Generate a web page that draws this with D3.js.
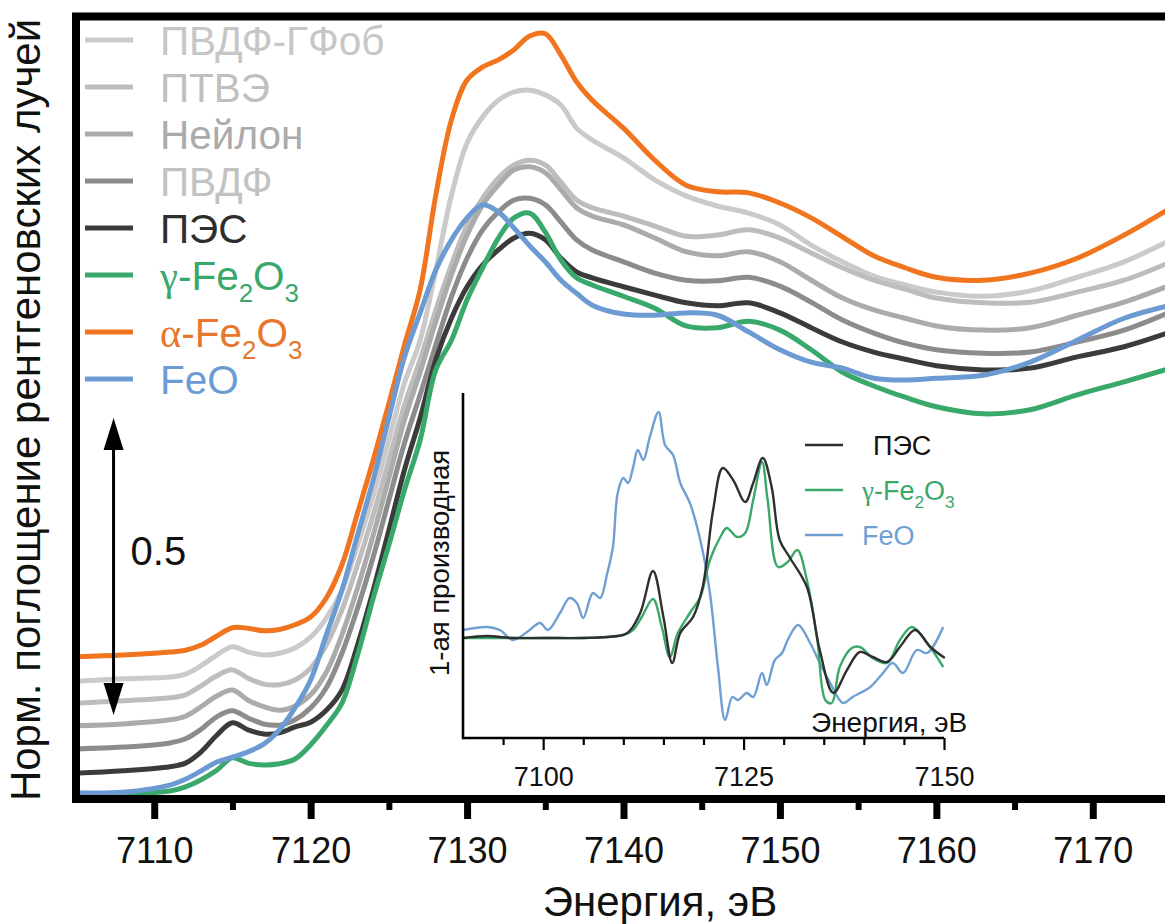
<!DOCTYPE html>
<html lang="ru">
<head>
<meta charset="utf-8">
<title>Fe K-край XANES</title>
<script src="https://cdn.jsdelivr.net/npm/d3@7/dist/d3.min.js"></script>
<style>
  html, body { margin: 0; background: #fff; }
  svg { display: block; font-family: "Liberation Sans", Arial, Helvetica, sans-serif; }
</style>
</head>
<body>
<svg id="chart" width="1165" height="924"></svg>
<script>
// ---------- Fe K-edge XANES, shared energy grid (eV) ----------
const energy = [7105, 7108, 7111, 7112, 7113, 7114, 7115, 7116, 7117, 7118, 7119, 7120, 7121,
  7122, 7123, 7124, 7125, 7126, 7127, 7128, 7129, 7130, 7131, 7132, 7133, 7134, 7135, 7136, 7137, 7138,
  7140, 7142, 7144, 7146, 7148, 7150, 7152, 7154, 7156, 7158, 7160,
  7163, 7166, 7169, 7172, 7175];

// normalised absorption, stacked with vertical offsets
const pvdfHfob = [.195,.199,.202,.207,.221,.239,.253,.244,.239,.242,.251,.269,.301,
  .348,.424,.508,.601,.697,.769,.887,1.013,1.101,1.145,1.173,1.187,1.190,1.182,1.165,1.126,1.106,
  1.076,1.039,1.012,.995,.983,.963,.929,.901,.877,.862,.850,
  .843,.852,.875,.901,.938];
const ptfe = [.158,.162,.167,.172,.187,.204,.214,.200,.190,.189,.197,.217,.256,
  .315,.391,.475,.567,.660,.736,.820,.896,.963,1.008,1.042,1.064,1.072,1.064,1.035,1.005,.992,
  .978,.961,.944,.946,.955,.941,.916,.891,.870,.855,.840,
  .832,.833,.850,.870,.901];
const nylon = [.120,.123,.130,.136,.152,.170,.180,.163,.152,.146,.153,.172,.210,
  .273,.352,.441,.537,.635,.715,.800,.879,.946,.997,1.030,1.056,1.061,1.051,1.022,.992,.978,
  .963,.941,.918,.911,.918,.901,.870,.840,.820,.806,.793,
  .786,.790,.811,.833,.862];
const pvdf = [.081,.084,.091,.098,.114,.135,.145,.133,.123,.121,.130,.150,.184,
  .242,.318,.404,.500,.596,.677,.761,.842,.907,.955,.985,1.005,1.008,.997,.968,.938,.921,
  .901,.882,.870,.869,.875,.860,.833,.803,.781,.764,.753,
  .747,.749,.766,.786,.817];
const pes = [.040,.044,.051,.057,.076,.104,.125,.113,.106,.108,.118,.126,.146,
  .180,.256,.348,.449,.551,.638,.736,.806,.859,.896,.921,.941,.949,.938,.907,.884,.874,
  .859,.845,.832,.827,.832,.815,.790,.766,.749,.737,.726,
  .719,.722,.741,.758,.783];
const gammaFe2O3 = [.003,.005,.010,.017,.029,.045,.066,.057,.054,.056,.064,.088,.120,
  .158,.239,.335,.424,.517,.601,.719,.769,.837,.891,.941,.975,.983,.951,.904,.874,.862,
  .843,.823,.793,.790,.801,.786,.753,.715,.692,.673,.657,
  .645,.652,.677,.699,.722];
const alphaFe2O3 = [.236,.239,.244,.247,.256,.271,.285,.284,.280,.282,.290,.303,.335,
  .391,.478,.567,.662,.761,.854,1.013,1.140,1.207,1.229,1.241,1.258,1.281,1.285,1.249,1.204,1.173,
  1.126,1.072,1.030,1.019,1.017,1.000,.975,.943,.911,.891,.875,
  .870,.882,.907,.946,.992];
const feo = [.007,.008,.020,.030,.044,.059,.067,.076,.089,.113,.150,.197,.273,
  .348,.441,.534,.638,.741,.815,.887,.938,.975,.997,.985,.958,.928,.901,.870,.848,.828,
  .813,.811,.815,.811,.783,.753,.732,.722,.705,.702,.705,
  .710,.732,.769,.806,.828];

const mainTicks = [7110, 7120, 7130, 7140, 7150, 7160, 7170];
const mainMinorTicks = [7115, 7125, 7135, 7145, 7155, 7165, 7175];

// scale bar (normalised units)
const scaleBarEnergy = 7107.4;
const scaleBarFrom = 0.138;
const scaleBarSpan = 0.5;

// ---------- first derivative (inset) ----------
const dEnergyPes = [7090, 7093, 7096, 7100, 7105, 7108, 7110.5, 7112.1, 7113.7, 7115.0, 7116.1, 7117.1,
  7118.7, 7119.9, 7121.2, 7122.4, 7123.7, 7125.2, 7126.2, 7127.4, 7128.5, 7129.5, 7130.8, 7132.9,
  7134.5, 7136.2, 7137.9, 7139.5, 7141.1, 7142.9, 7144.5, 7146.4, 7148.3, 7150.1];
const dPes = [0.00, 0.02, 0.00, 0.00, 0.00, 0.01, 0.05, 0.25, 0.67, 0.21, -0.25, 0.05,
  0.21, 0.51, 1.28, 1.70, 1.58, 1.36, 1.55, 1.80, 1.51, 0.98, 0.80, 0.51,
  -0.12, -0.55, -0.32, -0.14, -0.19, -0.24, -0.09, 0.08, -0.09, -0.20];

const dEnergyGamma = [7090, 7095, 7100, 7105, 7108, 7110, 7111.2, 7112.3, 7113.7, 7114.8, 7115.8, 7116.8,
  7118.3, 7119.6, 7120.8, 7122.1, 7122.9, 7124.2, 7125.2, 7126.2, 7127.3, 7128.0, 7129.3, 7130.5,
  7131.7, 7132.9, 7134.2, 7135.2, 7136.0, 7137.0, 7138.5, 7139.5, 7141.1, 7142.9, 7144.5, 7146.0,
  7147.9, 7149.9];
const dGamma = [0.00, 0.00, 0.00, 0.00, 0.01, 0.03, 0.08, 0.21, 0.39, 0.11, -0.19, 0.05,
  0.25, 0.41, 0.78, 1.01, 1.10, 1.01, 1.05, 1.38, 1.76, 1.38, 0.71, 0.76,
  0.88, 0.58, -0.02, -0.62, -0.65, -0.29, -0.10, -0.09, -0.20, -0.25, -0.02, 0.11,
  -0.05, -0.29];

const dEnergyFeo = [7090.0, 7093.0, 7094.6, 7096.2, 7098.0, 7099.6, 7100.6, 7102.1, 7103.3, 7104.2,
  7105.0, 7106.2, 7107.1, 7108.0, 7108.7, 7109.3, 7110.0, 7110.6, 7111.2, 7111.8, 7112.5, 7113.3,
  7114.4, 7115.2, 7116.2, 7117.1, 7118.3, 7119.6, 7120.8, 7121.8, 7122.7, 7123.6, 7124.3, 7125.4,
  7126.2, 7127.3, 7127.9, 7128.9, 7129.8, 7130.5, 7131.8, 7133.3, 7134.5, 7135.8, 7137.4, 7138.6,
  7140.8, 7142.4, 7143.6, 7144.9, 7146.6, 7147.9, 7149.9];
const dFeo = [0.08, 0.11, 0.08, -0.02, 0.06, 0.15, 0.08, 0.25, 0.40, 0.35,
  0.20, 0.45, 0.40, 0.65, 0.91, 1.45, 1.60, 1.55, 1.70, 1.88, 1.78, 2.01,
  2.26, 1.93, 1.83, 1.55, 1.35, 0.98, 0.45, -0.29, -0.82, -0.59, -0.62, -0.55,
  -0.59, -0.35, -0.47, -0.22, -0.15, -0.02, 0.13, -0.05, -0.25, -0.45, -0.65, -0.59,
  -0.49, -0.35, -0.25, -0.35, -0.12, -0.15, 0.11];

const insetTicks = [7100, 7125, 7150];
const insetMinorTicks = [7095, 7105, 7110, 7115, 7120, 7130, 7135, 7140, 7145];

// ---------- series styling ----------
const mainSeries = [
  { name: "ПВДФ-ГФоб", values: pvdfHfob,   line: "#cacaca", text: "#c6c6c6" },
  { name: "ПТВЭ",      values: ptfe,       line: "#bdbdbd", text: "#bfbfbf" },
  { name: "Нейлон",    values: nylon,      line: "#ababab", text: "#ababab" },
  { name: "ПВДФ",      values: pvdf,       line: "#8c8c8c", text: "#c2c2c2" },
  { name: "ПЭС",       values: pes,        line: "#3b3b3b", text: "#2e2e2e" },
  { name: "γ-Fe2O3",   values: gammaFe2O3, line: "#39a86b", text: "#39a86b" },
  { name: "α-Fe2O3",   values: alphaFe2O3, line: "#f0751e", text: "#e8762c" },
  { name: "FeO",       values: feo,        line: "#6b9bd2", text: "#6b9bd2" }
];

const insetSeries = [
  { name: "FeO",     e: dEnergyFeo,   v: dFeo,   color: "#6f9fd3" },
  { name: "γ-Fe2O3", e: dEnergyGamma, v: dGamma, color: "#3aa86b" },
  { name: "ПЭС",     e: dEnergyPes,   v: dPes,   color: "#2f2f2f" }
];
const insetLegendOrder = ["ПЭС", "γ-Fe2O3", "FeO"];

// ---------- layout ----------
const W = 1165, H = 924;
const plot = { left: 76, top: 16.5, bottom: 799, right: 1171 };
const svg = d3.select("#chart");
svg.append("rect").attr("width", W).attr("height", H).attr("fill", "#fff");

const x = d3.scaleLinear().domain([7105, 7175]).range([plot.left, plot.right]);
const y = d3.scaleLinear().domain([0, 1.3]).range([797, 797 - 1.3 * 594]);

const ix = d3.scaleLinear().domain([7090, 7150]).range([463, 944]);
const iy = d3.scaleLinear().domain([-1, 2.45]).range([738, 393]);

// label helper: digits become subscripts, Greek letters use a serif face
function richText(sel, label, size) {
  const parts = label.match(/[α-ω]|\d|[^α-ω\d]+/g);
  let low = false;
  parts.forEach(p => {
    const t = sel.append("tspan").text(p);
    if (/\d/.test(p)) {
      t.attr("font-size", size * 0.64);
      if (!low) { t.attr("dy", size * 0.3); low = true; }
    } else {
      if (low) { t.attr("dy", -size * 0.3); low = false; }
      if (/[α-ω]/.test(p)) t.attr("font-family", "'Liberation Serif', 'Times New Roman', serif");
    }
  });
}

// ---------- main spectra ----------
svg.append("clipPath").attr("id", "plotClip")
  .append("rect").attr("x", plot.left).attr("y", plot.top)
  .attr("width", plot.right - plot.left + 20).attr("height", plot.bottom - plot.top);

const line = d3.line()
  .x((d, i) => x(energy[i]))
  .y(d => y(d))
  .curve(d3.curveCatmullRom.alpha(0.5));

svg.append("g").attr("clip-path", "url(#plotClip)")
  .selectAll("path").data(mainSeries).join("path")
  .attr("d", s => line(s.values))
  .attr("fill", "none")
  .attr("stroke", s => s.line)
  .attr("stroke-width", 5)
  .attr("stroke-linejoin", "round");

// ---------- main axis ----------
const axisG = svg.append("g").attr("transform", `translate(0,${plot.bottom})`);
axisG.call(d3.axisBottom(x).tickValues(mainMinorTicks).tickSize(11).tickFormat(""))
  .call(g => g.select(".domain").remove())
  .call(g => g.selectAll("line").attr("stroke", "#000").attr("stroke-width", 6));
const axisMajor = svg.append("g").attr("transform", `translate(0,${plot.bottom})`);
axisMajor.call(d3.axisBottom(x).tickValues(mainTicks).tickSize(20).tickPadding(18).tickFormat(d3.format("d")))
  .call(g => g.select(".domain").remove())
  .call(g => g.selectAll("line").attr("stroke", "#000").attr("stroke-width", 7))
  .call(g => g.selectAll("text").attr("font-size", 36).attr("fill", "#111")
    .attr("font-family", "'Liberation Sans', Arial, sans-serif"));

// frame
svg.append("rect")
  .attr("x", plot.left).attr("y", plot.top)
  .attr("width", plot.right - plot.left + 10).attr("height", plot.bottom - plot.top)
  .attr("fill", "none").attr("stroke", "#000").attr("stroke-width", 8);

// axis titles
svg.append("text")
  .attr("x", 660).attr("y", 916)
  .attr("text-anchor", "middle").attr("font-size", 42).attr("fill", "#111")
  .text("Энергия, эВ");

svg.append("text")
  .attr("transform", "translate(40,410) rotate(-90)")
  .attr("text-anchor", "middle").attr("font-size", 42).attr("fill", "#111")
  .text("Норм. поглощение рентгеновских лучей");

// ---------- legend ----------
const legend = svg.append("g");
mainSeries.forEach((s, i) => {
  const ry = 40 + i * 47 + (i >= 6 ? 10 : 0);
  legend.append("line")
    .attr("x1", 85).attr("x2", 133).attr("y1", ry).attr("y2", ry)
    .attr("stroke", s.line).attr("stroke-width", 5);
  const t = legend.append("text")
    .attr("x", 160).attr("y", ry + 15)
    .attr("font-size", 40.5).attr("fill", s.text);
  richText(t, s.name, 40.5);
});

// ---------- 0.5 scale bar ----------
const sbX = x(scaleBarEnergy);
const sbTop = y(scaleBarFrom + scaleBarSpan);
const sbBot = y(scaleBarFrom);
const headL = 32, headW = 10;
svg.append("line")
  .attr("x1", sbX).attr("x2", sbX)
  .attr("y1", sbTop + headL - 2).attr("y2", sbBot - headL + 2)
  .attr("stroke", "#000").attr("stroke-width", 3);
svg.append("path")
  .attr("d", `M${sbX},${sbTop} L${sbX - headW},${sbTop + headL} L${sbX + headW},${sbTop + headL} Z`)
  .attr("fill", "#000");
svg.append("path")
  .attr("d", `M${sbX},${sbBot} L${sbX - headW},${sbBot - headL} L${sbX + headW},${sbBot - headL} Z`)
  .attr("fill", "#000");
svg.append("text")
  .attr("x", sbX + 17).attr("y", (sbTop + sbBot) / 2 - 1.5)
  .attr("font-size", 40).attr("fill", "#111")
  .text(String(scaleBarSpan));

// ---------- inset: first derivative ----------
const inset = svg.append("g");
const iline = d3.line().curve(d3.curveCatmullRom.alpha(0.5));
inset.selectAll("path.deriv").data(insetSeries).join("path")
  .attr("class", "deriv")
  .attr("d", s => iline(s.e.map((e, i) => [ix(e), iy(s.v[i])])))
  .attr("fill", "none")
  .attr("stroke", d => d.color)
  .attr("stroke-width", 2.4)
  .attr("stroke-linejoin", "round");

// inset axes
const iAxisMinor = inset.append("g").attr("transform", `translate(0,${iy(-1)})`);
iAxisMinor.call(d3.axisBottom(ix).tickValues(insetMinorTicks).tickSize(7).tickFormat(""))
  .call(g => g.select(".domain").remove())
  .call(g => g.selectAll("line").attr("stroke", "#000").attr("stroke-width", 2.2));
const iAxis = inset.append("g").attr("transform", `translate(0,${iy(-1)})`);
iAxis.call(d3.axisBottom(ix).tickValues(insetTicks).tickSize(12).tickPadding(17).tickFormat(d3.format("d")))
  .call(g => g.select(".domain").remove())
  .call(g => g.selectAll("line").attr("stroke", "#000").attr("stroke-width", 2.2))
  .call(g => g.selectAll("text").attr("font-size", 27).attr("fill", "#111")
    .attr("font-family", "'Liberation Sans', Arial, sans-serif"));
inset.append("line")
  .attr("x1", ix(7090)).attr("x2", ix(7150)).attr("y1", iy(-1)).attr("y2", iy(-1))
  .attr("stroke", "#000").attr("stroke-width", 2.6);
inset.append("line")
  .attr("x1", ix(7090)).attr("x2", ix(7090)).attr("y1", iy(2.45)).attr("y2", iy(-1) + 1.3)
  .attr("stroke", "#000").attr("stroke-width", 2.6);

inset.append("text")
  .attr("transform", `translate(449,563) rotate(-90)`)
  .attr("text-anchor", "middle").attr("font-size", 27.5).attr("fill", "#111")
  .text("1-ая производная");

inset.append("text")
  .attr("x", 811).attr("y", 732)
  .attr("font-size", 28).attr("fill", "#111")
  .text("Энергия, эВ");

// inset legend
insetLegendOrder.forEach((name, i) => {
  const s = insetSeries.find(d => d.name === name);
  const ry = 445 + i * 45;
  inset.append("line")
    .attr("x1", 805).attr("x2", 843).attr("y1", ry).attr("y2", ry)
    .attr("stroke", s.color).attr("stroke-width", 2.6);
  const t = inset.append("text")
    .attr("x", name === "ПЭС" ? 873 : 862).attr("y", ry + 10)
    .attr("font-size", 27).attr("fill", name === "ПЭС" ? "#111" : s.color);
  richText(t, name, 27);
});
</script>
</body>
</html>
